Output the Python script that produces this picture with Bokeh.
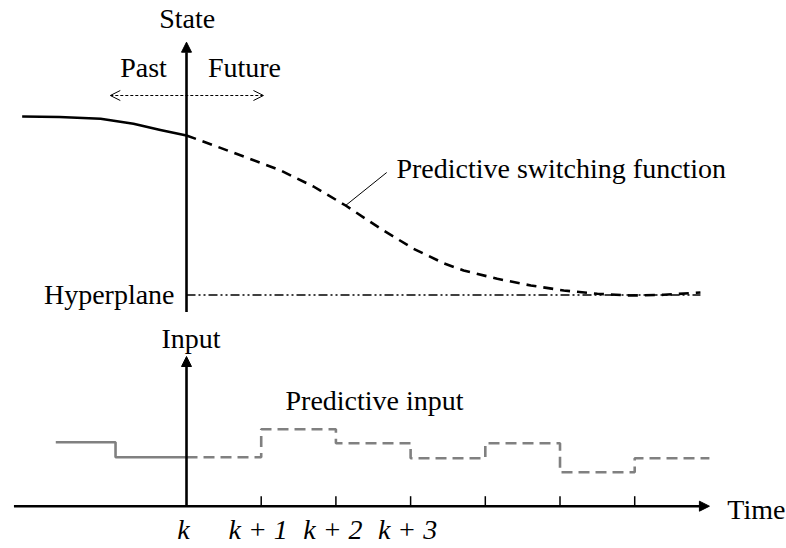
from bokeh.plotting import figure
from bokeh.models import Range1d, Arrow, NormalHead, OpenHead, Label, ColumnDataSource
from bokeh.embed import file_html
from bokeh.resources import INLINE
from bokeh.core.properties import value

# ---- data (time in sampling steps, k = 0) ----
tick_steps = [1, 2, 3, 4, 5, 6]
tick_label_steps = [0, 1, 2, 3]
tick_labels = ["k", "k + 1", "k + 2", "k + 3"]

# state trajectory, measured as height above the hyperplane
past_t = [-2.2, -1.7, -1.15, -0.71, -0.35, 0.0]
past_state = [178.5, 178, 176.2, 171.2, 165, 159.5]
future_t = [0.0, 0.37, 0.81, 1.26, 1.70, 2.13, 2.60, 3.04, 3.45, 3.71, 4.16, 4.61,
            5.05, 5.50, 5.94, 6.39, 6.88]
future_state = [159.5, 149.5, 137.2, 124.5, 108.5, 89.5, 66.2, 46.2, 31.5, 24.5, 16.2, 9.5,
                4.5, 1.2, -0.5, 0.2, 2.5]

# input, piecewise constant between step edges (height above the time axis)
past_input_edges = [-1.75, -0.95, 0.0]
past_input = [64, 49]
future_input_edges = [0, 1, 2, 3, 4, 5, 6, 7]
future_input = [49, 77, 63, 48, 63, 34, 48]

# ---- layout constants ----
STATE_BASE = 253.5   # hyperplane level
INPUT_BASE = 42.3    # time-axis level
FONT = "Liberation Serif"
FS = "28px"
TY = 9.0             # text baseline correction


def steps(edges, vals, base):
    xs, ys = [], []
    for i, v in enumerate(vals):
        xs += [edges[i], edges[i + 1]]
        ys += [base + v, base + v]
    return xs, ys


p = figure(width=786, height=548, x_range=Range1d(-2.49, 8.032), y_range=Range1d(0, 548),
           toolbar_location=None, output_backend="svg", x_axis_type=None, y_axis_type=None,
           min_border=0, min_border_left=0, min_border_right=0, min_border_top=0, min_border_bottom=0)
p.grid.visible = False
p.outline_line_color = None
p.background_fill_color = "white"

# hyperplane
p.line([0, future_t[-1]], [STATE_BASE, STATE_BASE], line_color="#404040", line_width=2,
       line_dash="9 3 2 3 2 3")

# state curves
p.line(past_t, [STATE_BASE + s for s in past_state], line_color="black", line_width=2.6,
       line_join="round")
p.line(future_t, [STATE_BASE + s for s in future_state], line_color="black", line_width=2.6,
       line_dash="10 7", line_join="round")

# leader line
i_lead = 5
p.line([future_t[i_lead], future_t[i_lead] + 0.55],
       [STATE_BASE + future_state[i_lead], STATE_BASE + future_state[i_lead] + 33],
       line_color="black", line_width=1)

# input curves
xs, ys = steps(past_input_edges, past_input, INPUT_BASE)
p.line(xs, ys, line_color="#808080", line_width=2.6)
xs, ys = steps(future_input_edges, future_input, INPUT_BASE)
p.line(xs, ys, line_color="#808080", line_width=2.6, line_dash="11 6")

# axes
p.add_layout(Arrow(end=NormalHead(size=10, fill_color="black", line_color="black"),
                   x_start=0, y_start=STATE_BASE - 17, x_end=0, y_end=506.3,
                   line_width=2.6, line_color="black"))
p.add_layout(Arrow(end=NormalHead(size=10, fill_color="black", line_color="black"),
                   x_start=0, y_start=INPUT_BASE, x_end=0, y_end=192,
                   line_width=2.6, line_color="black"))
p.add_layout(Arrow(end=NormalHead(size=10, fill_color="black", line_color="black"),
                   x_start=-2.31, y_start=INPUT_BASE, x_end=7.0, y_end=INPUT_BASE,
                   line_width=2.6, line_color="black"))
p.segment(x0=tick_steps, y0=[INPUT_BASE] * len(tick_steps), x1=tick_steps,
          y1=[INPUT_BASE + 10] * len(tick_steps), line_color="black", line_width=1.5)

# past/future double arrow
p.add_layout(Arrow(start=OpenHead(size=10, line_width=1, line_color="black"),
                   end=OpenHead(size=10, line_width=1, line_color="black"),
                   x_start=-1.02, y_start=453, x_end=1.03, y_end=453,
                   line_width=1, line_dash="3 2", line_color="black"))

# tick labels
src = ColumnDataSource(dict(x=tick_label_steps, y=[9.7 + TY] * len(tick_labels), t=tick_labels))
p.text(x="x", y="y", text="t", source=src, x_offset=-3, text_align="center",
       text_baseline="alphabetic", text_font=value(FONT), text_font_style="italic",
       text_font_size=FS, text_color="black")


def lab(x, y, text, align="left"):
    p.add_layout(Label(x=x, y=y + TY, text=text, text_font=FONT, text_font_size=FS,
                       text_align=align, text_baseline="alphabetic", text_color="black"))


lab(0.01, 521.3, "State", "center")
lab(-0.576, 472, "Past", "center")
lab(0.776, 472, "Future", "center")
lab(2.81, 371.3, "Predictive switching function")
lab(-0.16, 244.7, "Hyperplane", "right")
lab(0.06, 201.3, "Input", "center")
lab(1.325, 138.7, "Predictive input")
lab(7.24, 29.7, "Time")

open("out.html", "w").write(file_html(p, INLINE))
